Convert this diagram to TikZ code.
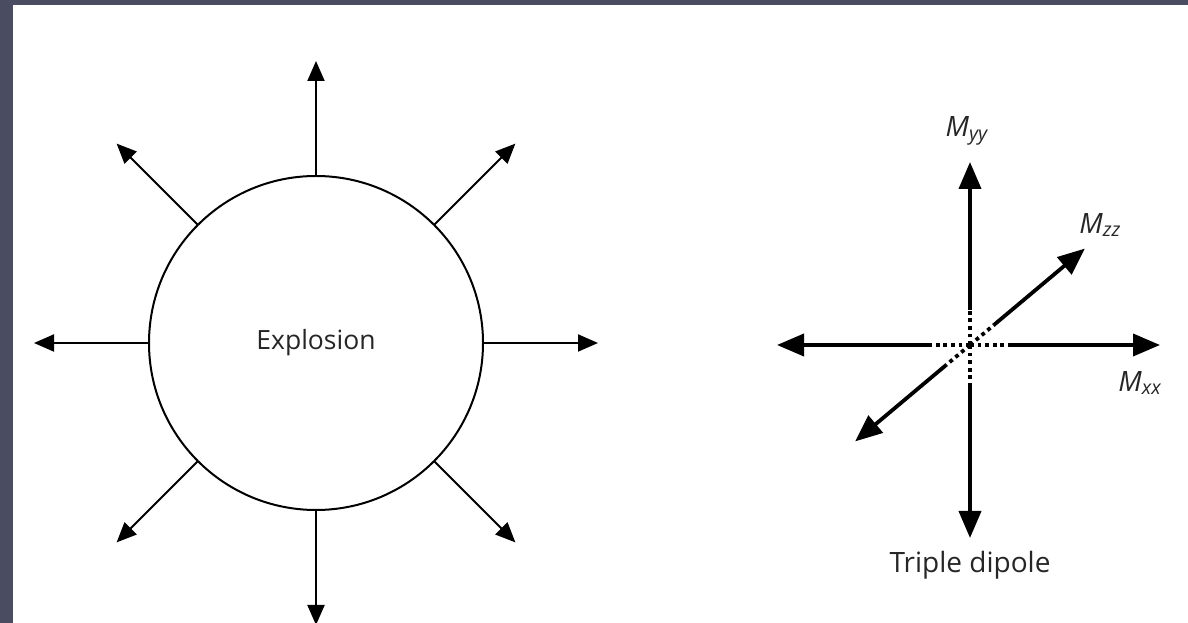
\documentclass[tikz,border=0pt]{standalone}
\usepackage{fontspec}
\setmainfont{Open Sans}
\usetikzlibrary{arrows.meta}
\definecolor{slidebg}{HTML}{4A4D62}
\definecolor{inkgray}{HTML}{262626}
\newcommand{\mlab}[1]{\textit{M}\textsubscript{\textit{#1}}}
\begin{document}
\begin{tikzpicture}
[x=1pt,y=1pt,
  circledecorate/.style={shape=circle,draw,line width=2pt,minimum size=334pt,
    inner sep=0pt,outer sep=0pt,font=\fontsize{26.5}{30}\selectfont,text=inkgray},%
  raydecorate/.style={-{Triangle[length=20pt,width=17pt]},line width=2pt},%
  axisdecorate/.style={-{Triangle[length=27pt,width=22pt]},line width=3.8pt},%
  dotdecorate/.style={line width=3.8pt,dash pattern=on 3.8pt off 3.8pt},%
  labeldecorate/.style={font=\fontsize{28}{32}\selectfont,text=inkgray,inner sep=0pt}]
%% frame
\fill[slidebg] (0,0) rectangle (1188,623);
\fill[white] (13,0) rectangle (1188,618);
\useasboundingbox (0,0) rectangle (1188,623);
%% explosion
\node (expl) at (316,280) [circledecorate] {Explosion};
\foreach \a in {0,45,...,315} {
  \path (expl.\a) ++(\a:115) coordinate (ray\a);
  \draw[raydecorate] (expl.\a) -- (ray\a);
}
%% triple dipole
\coordinate (o) at (970,278);
\foreach \n/\a/\r/\d in {xx/0/190/38, yy/90/183/35, zz/40/150/31,
  nx/180/193/42, ny/270/193/40, nz/220/150/31} {
  \path (o) ++(\a:\r) coordinate (\n);
  \path (o) ++(\a:\d) coordinate (\n-in);
  \draw[dotdecorate] (o) -- (\n-in);
  \draw[axisdecorate] (\n-in) -- (\n);
}
\node (myy) at (967,492) [labeldecorate] {\mlab{yy}};
\node (mzz) at (1100,398) [labeldecorate] {\mlab{zz}};
\node (mxx) at (1140,240) [labeldecorate] {\mlab{xx}};
\node (trip) at (970,58) [labeldecorate] {Triple dipole};
\end{tikzpicture}
\end{document}
